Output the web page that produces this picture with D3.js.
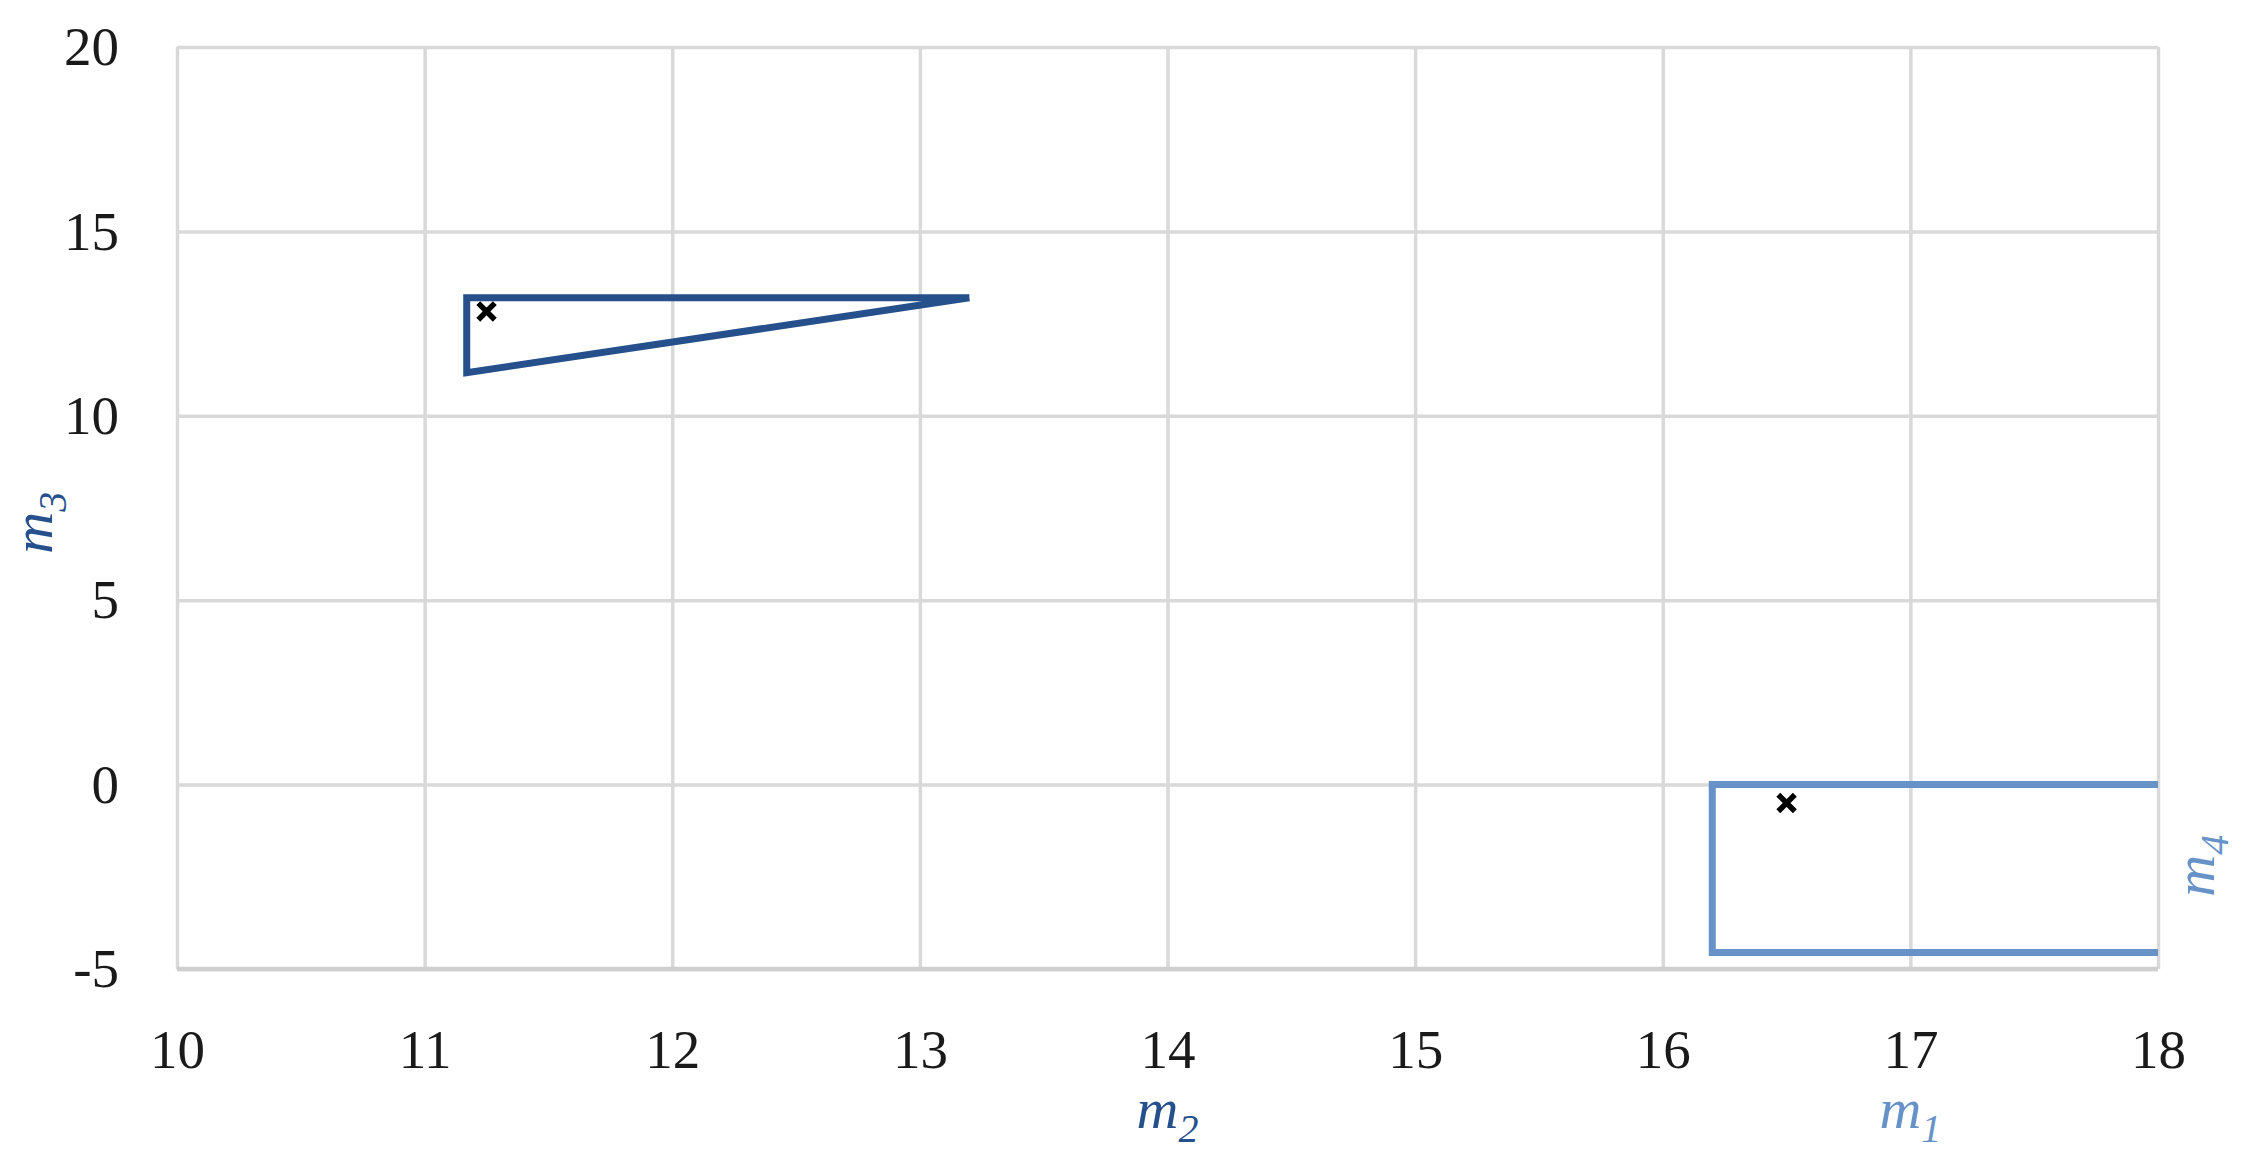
<!DOCTYPE html>
<html>
<head>
<meta charset="utf-8">
<script src="https://cdn.jsdelivr.net/npm/d3@7"></script>
<style>
	body { margin: 0; background: #fff; }
	.axis text { font-family: "Liberation Serif", "DejaVu Serif", serif; font-size: 55px; fill: #1a1a1a; }
	.axis .domain { display: none; }
	.grid line { stroke: #d9d9d9; stroke-width: 3.5; }
	.lbl { font-family: "Liberation Serif", "DejaVu Serif", serif; font-style: italic; font-size: 58px; }
</style>
</head>
<body>
<svg id="graph"></svg>
<script>
// axis ranges and ticks
var x_ticks = [ 10, 11, 12, 13, 14, 15, 16, 17, 18 ];
var y_ticks = [ -5, 0, 5, 10, 15, 20 ];

// region m2/m3 (dark blue triangle)
var region_a_x = [ 13.2, 11.17, 11.17, 13.2 ];
var region_a_y = [ 13.2, 13.2, 11.17, 13.2 ];
var point_a = [ 11.25, 12.83 ];

// region m1/m4 (light blue box, open at the right edge)
var region_b_x = [ 18, 16.2, 16.2, 18 ];
var region_b_y = [ 0, 0, -4.55, -4.55 ];
var point_b = [ 16.5, -0.5 ];

var dark_blue  = "#25508b";
var light_blue = "#6692c8";

var W = 2251, H = 1168;
var margin = { top : 47, right : 93, bottom : 199, left : 177 };
var width  = W - margin.left - margin.right;
var height = H - margin.top  - margin.bottom;

var root = d3.select( "#graph" )
	.attr( "width", W )
	.attr( "height", H );

var svg = root.append( "g" )
	.attr( "transform", "translate(" + margin.left + "," + margin.top + ")" );

var x = d3.scaleLinear().domain([ 10, 18 ]).range([ 0, width ]);
var y = d3.scaleLinear().domain([ -5, 20 ]).range([ height, 0 ]);

// grid lines
svg.append( "g" )
	.attr( "class", "grid" )
	.attr( "transform", "translate(0," + height + ")" )
	.call( d3.axisBottom( x ).tickValues( x_ticks ).tickSize( -height ).tickFormat( "" ) )
	.select( ".domain" ).remove();

svg.append( "g" )
	.attr( "class", "grid" )
	.call( d3.axisLeft( y ).tickValues( y_ticks ).tickSize( -width ).tickFormat( "" ) )
	.select( ".domain" ).remove();

// bottom axis line a touch darker
svg.append( "line" )
	.attr( "x1", x( 10 ) ).attr( "x2", x( 18 ) )
	.attr( "y1", y( -5 ) ).attr( "y2", y( -5 ) )
	.style( "stroke", "#cfcfcf" ).style( "stroke-width", 4.5 );

// tick labels
svg.append( "g" )
	.attr( "class", "x axis" )
	.attr( "transform", "translate(0," + height + ")" )
	.call( d3.axisBottom( x ).tickValues( x_ticks ).tickSize( 0 ).tickPadding( 60 ).tickFormat( d3.format( "d" ) ) );

svg.append( "g" )
	.attr( "class", "y axis" )
	.call( d3.axisLeft( y ).tickValues( y_ticks ).tickSize( 0 ).tickPadding( 58 ).tickFormat( function(d){ return String( d ); } ) );

// regions
var line = d3.line()
	.x(function(d) { return x( d[0] ); })
	.y(function(d) { return y( d[1] ); });

svg.append( "path" )
	.attr( "d", line( d3.zip( region_a_x, region_a_y ) ) )
	.style( "fill", "none" )
	.style( "stroke", dark_blue )
	.style( "stroke-width", 7 )
	.style( "stroke-linejoin", "miter" );

svg.append( "path" )
	.attr( "d", line( d3.zip( region_b_x, region_b_y ) ) )
	.style( "fill", "none" )
	.style( "stroke", light_blue )
	.style( "stroke-width", 7 );

// cross markers
var cross = d3.symbol().type( d3.symbolX ).size( 180 );
svg.selectAll( ".pt" )
	.data([ point_a, point_b ])
	.enter()
	.append( "path" )
		.attr( "class", "pt" )
		.attr( "d", cross )
		.attr( "transform", function(d){ return "translate(" + x( d[0] ) + "," + y( d[1] ) + ")"; } )
		.style( "stroke", "#000" )
		.style( "stroke-width", 5.5 );

// axis labels
function add_label( tx, ty, rot, main, sub, color ){
	var t = root.append( "text" )
		.attr( "class", "lbl" )
		.attr( "text-anchor", "middle" )
		.attr( "transform", "translate(" + tx + "," + ty + ")" + ( rot ? " rotate(" + rot + ")" : "" ) )
		.style( "fill", color );
	t.append( "tspan" ).text( main );
	t.append( "tspan" ).attr( "dy", 14 ).style( "font-size", "40px" ).text( sub );
}

add_label( margin.left + x( 14 ), 1128, 0, "m", "2", dark_blue );
add_label( margin.left + x( 17 ), 1128, 0, "m", "1", light_blue );
add_label( 52, margin.top + y( 7.1 ), -90, "m", "3", dark_blue );
add_label( 2214, margin.top + y( -2.2 ), -90, "m", "4", light_blue );
</script>
</body>
</html>
